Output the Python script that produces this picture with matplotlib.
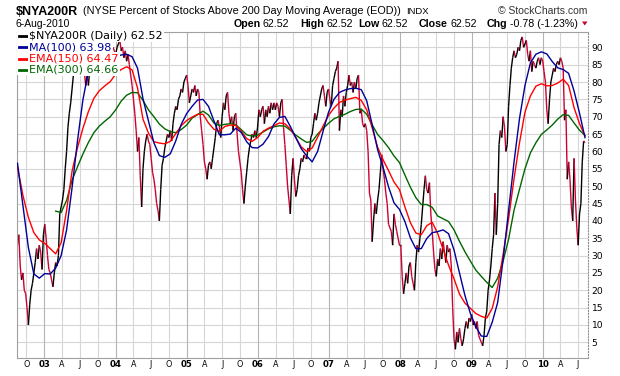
import numpy as np
import pandas as pd
import matplotlib
matplotlib.use("Agg")
import matplotlib.pyplot as plt
import matplotlib.dates as mdates
from matplotlib.collections import LineCollection
from matplotlib.lines import Line2D
from matplotlib.patches import Polygon, Rectangle

# weekly closes (Fridays)
close_2002 = [33, 36, 27, 23, 25, 20, 19, 15, 10, 16, 20, 22, 25, 28, 32, 29, 33, 31, 26, 36]
close_2003 = [39, 35, 30, 26, 25, 23, 21, 25, 28, 27, 30,
              42, 44, 46, 49, 55, 60, 67, 71, 74, 78, 82, 85,
              86, 84, 87, 85, 82, 86, 83, 79, 82, 79, 84, 86, 84, 87, 88, 86, 89, 87,
              83, 88, 89, 86, 87, 83, 87, 88, 89, 90, 89]
close_2004 = [88, 90, 91, 92, 89, 90, 87, 89, 86, 88, 85, 82, 79, 75, 71, 66, 60, 64, 53, 44,
              55, 60, 63, 65, 63, 62, 58, 54, 52, 49, 45, 43, 40, 49, 56, 58, 61, 63, 65, 64,
              66, 63, 68, 71, 73, 72, 75, 76, 78, 77, 80, 81, 82]
close_2005 = [79, 74, 76, 78, 77, 79, 76, 78, 77, 70, 66, 62, 57, 55, 52, 56,
              57, 55, 58, 61, 64, 68, 69, 67, 64, 70, 74, 72, 76, 77, 71, 68, 70, 66, 70, 71,
              65, 60, 57, 54, 49, 45, 50, 54, 58, 61, 63, 65, 64, 66, 64, 67]
close_2006 = [72, 70, 72, 73, 68, 72, 70, 73, 71, 74, 72, 74, 72, 74, 73, 70, 74, 75, 67, 62,
              56, 50, 46, 42, 53, 58, 52, 47, 49, 53, 55, 58, 57, 59, 58,
              58, 61, 60, 64, 65, 68, 71, 69, 71, 74, 76, 78, 79, 76, 73, 77, 78]
close_2007 = [75, 73, 79, 81, 83, 84, 86, 66, 72, 70, 76, 73, 77, 79, 82, 79, 80, 77, 80, 78,
              81, 82, 71, 72, 68, 67, 68, 66, 60, 48, 46, 34, 40, 45, 42, 46, 49, 54, 59, 55,
              52, 48, 45, 39, 38, 37, 33, 42, 39, 37, 35, 33]
close_2008 = [33, 24, 19, 22, 25, 22, 27, 28, 24, 22, 20, 28, 33, 31, 35, 39, 44, 49, 53, 49,
              48, 51, 42, 37, 31, 26, 24, 29, 27, 32, 29, 34, 31, 28, 33, 31, 32, 27, 15, 6,
              3, 8, 5, 9, 6, 4, 6, 9, 11, 9, 12, 11]
close_2009 = [13, 10, 11, 9, 11, 7, 6, 5, 4, 7, 12, 14, 20, 23, 27, 32, 36, 48, 36, 45,
              62, 66, 64, 70, 67, 60, 62, 73, 79, 84, 87, 89, 87, 88, 90, 89, 92, 93, 90, 91,
              92, 88, 86, 89, 83, 86, 85, 84, 86, 87, 85, 87]
close_2010 = [86, 83, 80, 72, 68, 75, 80, 82, 84, 83, 85, 86, 85, 87, 86, 84, 69, 72, 52, 57,
              52, 44, 40, 58, 46, 38, 33, 42, 45, 57, 63, 62.52]

# averages, one value every 4 weeks
ma100 = [56.6, 44.4, 32.3, 24.7, 23.5, 24.8, 24.7, 26.4, 30.0, 37.4,
         49.5, 63.1, 75.0, 83.0, 86.0, 86.0, 86.0, 86.3, 87.2, 87.8,
         88.0, 87.3, 84.0, 75.2, 68.8, 62.5, 58.8, 58.3, 59.3, 63.0,
         67.8, 70.9, 73.0, 74.8, 75.0, 73.0, 68.8, 64.8, 64.8, 65.0,
         66.7, 65.5, 62.8, 61.1, 61.0, 62.1, 64.3, 67.9, 69.8, 70.1,
         67.2, 64.0, 60.8, 58.7, 57.0, 60.0, 65.8, 71.3, 75.0, 77.0,
         77.7, 78.1, 78.2, 77.8, 74.6, 67.7, 60.5, 55.4, 49.8, 45.2,
         43.3, 39.8, 35.1, 32.0, 32.0, 34.9, 36.6, 36.9, 37.4, 36.3,
         31.6, 25.0, 18.5, 13.3, 9.5, 6.8, 6.7, 10.8, 16.5, 28.9,
         43.0, 57.0, 69.5, 79.0, 85.5, 88.0, 88.7, 88.1, 85.9, 84.1,
         83.6, 82.5, 77.4, 71.0, 63.98]
ema150 = [55.5, 47.3, 41.0, 36.6, 34.5, 33.5, 32.0, 30.5, 33.7, 43.0,
          54.3, 61.1, 66.7, 71.5, 75.3, 77.5, 78.9, 80.1, 82.3, 83.6,
          84.4, 83.5, 78.3, 69.3, 65.3, 62.8, 62.4, 62.2, 62.9, 65.1,
          67.4, 68.9, 69.9, 70.7, 70.7, 68.2, 66.4, 65.8, 67.2, 67.6,
          67.5, 65.8, 63.7, 62.9, 64.0, 65.8, 66.7, 67.4, 68.2, 68.0,
          66.5, 64.0, 61.3, 60.0, 61.0, 64.1, 67.3, 70.4, 72.5, 74.1,
          74.8, 75.2, 75.6, 74.7, 72.0, 66.8, 61.2, 57.6, 54.5, 51.2,
          49.0, 44.0, 39.5, 36.5, 36.0, 38.6, 39.6, 36.4, 31.8, 27.2,
          23.3, 18.9, 16.3, 14.8, 13.3, 12.5, 12.0, 14.8, 21.0, 30.4,
          40.6, 52.2, 62.5, 71.3, 76.0, 78.8, 79.5, 78.9, 79.0, 79.7,
          80.8, 79.0, 72.6, 68.0, 64.47]
ema300 = [np.nan] * 7 + [
          42.8, 42.4, 45.9, 51.7, 55.6, 59.3, 62.6, 65.4, 67.3, 68.7,
          70.0, 72.0, 74.5, 76.2, 77.0, 76.9, 74.7, 72.0, 70.0, 67.9,
          66.5, 65.7, 65.4, 66.3, 67.6, 69.6, 70.6, 71.6, 70.5, 68.2,
          67.5, 67.8, 68.0, 67.7, 66.3, 64.8, 64.4, 64.7, 65.6, 66.5,
          67.1, 67.4, 67.3, 66.1, 64.7, 63.6, 62.6, 62.9, 65.0, 66.6,
          68.1, 69.4, 70.1, 70.7, 71.5, 72.1, 72.2, 70.7, 67.7, 64.9,
          63.1, 61.1, 58.7, 56.8, 53.2, 49.7, 46.7, 44.7, 44.7, 43.9,
          41.4, 40.6, 39.8, 37.4, 34.1, 31.1, 28.4, 25.8, 24.0, 22.3,
          20.8, 23.5, 28.4, 34.7, 43.1, 49.1, 55.0, 59.6, 62.5, 64.9,
          66.2, 67.6, 69.3, 70.6, 70.4, 68.2, 66.1, 64.66]

closes = (close_2002 + close_2003 + close_2004 + close_2005 + close_2006
          + close_2007 + close_2008 + close_2009 + close_2010)
dates = pd.date_range("2002-08-16", periods=len(closes), freq="W-FRI")
ma_dates = dates[::4]

W, H = 620, 376
def fx(x): return x / W
def fy(y): return 1 - y / H

fig = plt.figure(figsize=(W / 100, H / 100), dpi=100)
ax = fig.add_axes([fx(16.7), fy(358.3), fx(588.3 - 16.7), (358.3 - 31.7) / H])

# grid
for v in range(5, 95, 5):
    ax.axhline(v, color="#d6d6d6", lw=0.8, zorder=0)
quarters = pd.date_range("2002-10-01", "2010-07-01", freq="QS")
qlabels = []
for d in quarters:
    ax.axvline(mdates.date2num(d), color="#b4b4b4" if d.month == 1 else "#d6d6d6",
               lw=0.8, zorder=0)
    qlabels.append({1: d.strftime("%y"), 4: "A", 7: "J", 10: "O"}[d.month])

# price line: black up, red down
x = mdates.date2num(dates)
y = np.array(closes, dtype=float)
segs = np.stack([np.column_stack([x[:-1], y[:-1]]), np.column_stack([x[1:], y[1:]])], axis=1)
cols = ["#cc0033" if y[i + 1] < y[i] else "black" for i in range(len(y) - 1)]
ax.add_collection(LineCollection(segs, colors=cols, linewidths=1.0, zorder=2))

xm = mdates.date2num(ma_dates)
ax.plot(xm, ema300, color="#006600", lw=1.0, zorder=3)
ax.plot(xm, ema150, color="#ff0000", lw=1.0, zorder=3)
ax.plot(xm, ma100, color="#000099", lw=1.0, zorder=3)

ax.set_xlim(mdates.date2num(pd.Timestamp("2002-08-12")), mdates.date2num(pd.Timestamp("2010-08-23")))
ax.set_ylim(0.4, 94.5)

ax.yaxis.tick_right()
ax.set_yticks(range(5, 95, 5))
ax.tick_params(axis="y", length=0, pad=2.5, labelsize=6.6)
ax.set_xticks(mdates.date2num(quarters))
ax.set_xticklabels(qlabels)
ax.tick_params(axis="x", length=0, pad=1.2, labelsize=5.8)
for lab, d in zip(ax.get_xticklabels(), quarters):
    if d.month == 1:
        lab.set_fontweight("bold")
        lab.set_fontsize(6.2)

for s in ["left", "top", "bottom"]:
    ax.spines[s].set_color("#a0a0a0")
    ax.spines[s].set_linewidth(0.8)
ax.spines["right"].set_color("#909090")
ax.spines["right"].set_linestyle(":")
ax.spines["right"].set_linewidth(0.8)

# legend
leg = [("$NYA200R (Daily) 62.52", "black"), ("MA(100) 63.98", "#000099"),
       ("EMA(150) 64.47", "#ff0000"), ("EMA(300) 64.66", "#006600")]
for i, (txt, c) in enumerate(leg):
    yc = 36 + i * 11.3
    fig.add_artist(Rectangle((fx(17.2), fy(yc + 5.5)), fx(13), 11 / H, transform=fig.transFigure,
                             facecolor="white", edgecolor="none", zorder=4))
    fig.add_artist(Line2D([fx(19), fx(28)], [fy(yc), fy(yc)], transform=fig.transFigure,
                          color=c, lw=2, zorder=5))
    fig.text(fx(29.5), fy(yc), txt, color=c, fontsize=8, va="center", ha="left", zorder=5,
             bbox=dict(boxstyle="square,pad=0.12", facecolor="white", edgecolor="none"))

# header
hf = "Liberation Sans"
fig.text(fx(16), fy(15), "$NYA200R", fontsize=9, fontweight="bold", family=hf)
fig.text(fx(82.7), fy(14.5), "(NYSE Percent of Stocks Above 200 Day Moving Average (EOD))",
         fontsize=7.8, family=hf)
fig.text(fx(406), fy(14.5), "INDX", fontsize=6.8, family=hf)
fig.text(fx(587.5), fy(14.5), "\u00a9 StockCharts.com", fontsize=7.5, family=hf,
         ha="right", color="#333333")
fig.text(fx(16), fy(26.7), "6-Aug-2010", fontsize=7.5, family=hf)

renderer = fig.canvas.get_renderer()
row = [(233.3, "Open"), (300, "High"), (358, "Low"), (419, "Close"), (486.7, "Chg")]
vals = ["62.52", "62.52", "62.52", "62.52", "-0.78 (-1.23%)"]
for (xp, lab), val in zip(row, vals):
    t = fig.text(fx(xp), fy(26.7), lab, fontsize=7.7, fontweight="bold", family=hf)
    x_end = t.get_window_extent(renderer).x1
    fig.text(fx(x_end + 2.5), fy(26.7), val, fontsize=7.7, family=hf)
fig.add_artist(Polygon([(fx(582), fy(21.5)), (fx(587.5), fy(21.5)), (fx(584.75), fy(25.5))],
                       closed=True, transform=fig.transFigure, facecolor="#cc0033",
                       edgecolor="none"))

fig.savefig("out.png", dpi=100)
